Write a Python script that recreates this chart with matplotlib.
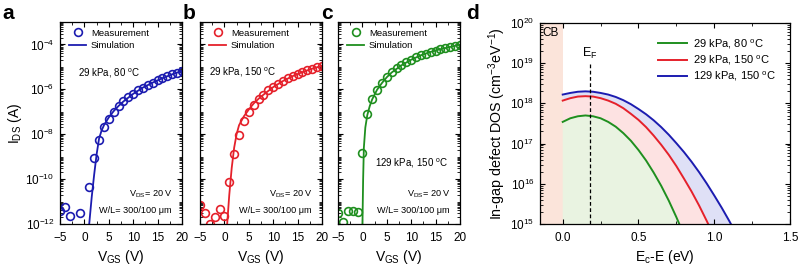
import numpy as np
import matplotlib
matplotlib.use("Agg")
import matplotlib.pyplot as plt
from matplotlib.ticker import LogLocator, NullFormatter, AutoMinorLocator, FixedLocator

plt.rcParams['font.family'] = ['Liberation Sans', 'DejaVu Sans']
plt.rcParams['mathtext.fontset'] = 'custom'
plt.rcParams['mathtext.rm'] = 'Liberation Sans'
plt.rcParams['mathtext.it'] = 'Liberation Sans'

# ---- measurement data (log10 of I_DS) ----
vgs_a = [-5, -4, -3, -1, 1, 2, 3, 4, 5, 6, 7, 8, 9, 10, 11, 12, 13, 14, 15, 16, 17, 18, 19, 20]
meas_a = [-11.4, -11.23, -11.64, -11.52, -10.36, -9.05, -8.25, -7.7, -7.3, -6.99, -6.76, -6.54,
          -6.36, -6.2, -6.05, -5.92, -5.8, -5.7, -5.59, -5.5, -5.41, -5.33, -5.26, -5.18]
sim_va = [0.9, 1.5, 2.0, 2.5, 3.0, 3.5, 4, 5, 6, 7, 8, 10, 12, 14, 16, 18, 20]
sim_a = [-12.2, -10.8, -9.8, -8.9, -8.2, -7.85, -7.6, -7.25, -6.97, -6.74, -6.54, -6.2, -5.92,
         -5.7, -5.5, -5.33, -5.18]

vgs_b = list(range(-5, 21))
meas_b = [-11.15, -11.5, -12.0, -11.67, -11.32, -11.64, -10.11, -8.86, -8.03, -7.43, -7.01, -6.7,
          -6.43, -6.24, -6.05, -5.9, -5.75, -5.63, -5.51, -5.41, -5.32, -5.23, -5.16, -5.08,
          -5.02, -4.95]
sim_vb = [0.5, 1.0, 1.5, 2.0, 2.5, 3, 4, 5, 6, 7, 8, 10, 12, 14, 16, 18, 20]
sim_b = [-12.2, -10.7, -9.5, -8.6, -8.0, -7.6, -7.2, -6.9, -6.63, -6.42, -6.24, -5.9, -5.63,
         -5.41, -5.23, -5.08, -4.95]

vgs_c = list(range(-5, 21))
meas_c = [-11.52, -11.9, -11.41, -11.43, -11.48, -8.84, -7.09, -6.43, -6.02, -5.72, -5.45, -5.24,
          -5.06, -4.92, -4.78, -4.68, -4.57, -4.48, -4.41, -4.34, -4.28, -4.22, -4.16, -4.11,
          -4.07, -4.02]
sim_vc = [0.0, 0.15, 0.3, 0.6, 1, 1.5, 2, 3, 4, 5, 6, 8, 10, 12, 14, 16, 18, 20]
sim_c = [-12.2, -10.0, -8.6, -7.7, -7.15, -6.75, -6.45, -6.02, -5.72, -5.46, -5.25, -4.93, -4.68,
         -4.48, -4.33, -4.21, -4.11, -4.02]

# ---- panel d: in-gap DOS (log10 values) ----
energy = [0.0, 0.05, 0.10, 0.15, 0.20, 0.25, 0.30, 0.35, 0.40, 0.45, 0.50, 0.55, 0.60, 0.65,
          0.70, 0.75, 0.80, 0.85, 0.90, 0.95, 1.00, 1.05, 1.10, 1.15]
dos_green = [17.54, 17.63, 17.68, 17.70, 17.68, 17.63, 17.54, 17.42, 17.26, 17.07, 16.84, 16.58,
             16.28, 15.95, 15.58, 15.17, 14.73, 14.2, 13.7, 13.2, 12.7, 12.2, 11.7, 11.2]
dos_red = [18.07, 18.13, 18.17, 18.18, 18.17, 18.13, 18.07, 17.99, 17.88, 17.74, 17.59, 17.41,
           17.20, 16.97, 16.72, 16.44, 16.13, 15.81, 15.46, 15.08, 14.68, 14.25, 13.8, 13.3]
dos_blue = [18.22, 18.26, 18.29, 18.30, 18.29, 18.26, 18.22, 18.16, 18.08, 17.98, 17.86, 17.73,
            17.58, 17.41, 17.22, 17.01, 16.79, 16.55, 16.29, 16.01, 15.71, 15.40, 15.07, 14.72]
dos_labels = ["29 kPa, 80 $^{\\mathrm{o}}$C", "29 kPa, 150 $^{\\mathrm{o}}$C", "129 kPa, 150 $^{\\mathrm{o}}$C"]
ef_energy = 0.18

blue = "#1c1cb0"
red = "#e5212b"
green = "#1f8f1f"

fig = plt.figure(figsize=(7.99, 2.68), dpi=100)

W, H = 799.0, 268.0
def ax_at(l, t, w, h):
    return fig.add_axes([l / W, (H - t - h) / H, w / W, h / H])

def style_ax(ax):
    ax.tick_params(which='both', direction='in', top=True, right=True, labelsize=8.5)
    ax.tick_params(axis='x', which='both', pad=6)
    ax.tick_params(axis='y', which='both', pad=4)
    ax.tick_params(which='major', length=3.5, width=0.8)
    ax.tick_params(which='minor', length=2, width=0.6)
    for s in ax.spines.values():
        s.set_linewidth(0.9)

panels = [
    (60, vgs_a, meas_a, sim_va, sim_a, blue, "a", "29 kPa, 80 $^{\\mathrm{o}}$C", (5.0, 10 ** -5.3)),
    (200, vgs_b, meas_b, sim_vb, sim_b, red, "b", "29 kPa, 150 $^{\\mathrm{o}}$C", (3.8, 10 ** -5.25)),
    (338, vgs_c, meas_c, sim_vc, sim_c, green, "c", "129 kPa, 150 $^{\\mathrm{o}}$C", (10, 10 ** -9.3)),
]

for i, (left, vx, my, sx, sy, col, lab, cond, cpos) in enumerate(panels):
    ax = ax_at(left, 22, 122, 202)
    ax.set_yscale('log')
    ax.plot(vx, np.power(10.0, my), 'o', mfc='none', mec=col, mew=1.2, ms=5.6,
            label='Measurement', clip_on=True)
    ax.plot(sx, np.power(10.0, sy), '-', color=col, lw=1.3, label='Simulation')
    ax.set_xlim(-5, 20)
    ax.set_ylim(1e-12, 1e-3)
    ax.set_xticks([-5, 0, 5, 10, 15, 20])
    ax.xaxis.set_minor_locator(AutoMinorLocator(2))
    ax.yaxis.set_major_locator(FixedLocator([1e-12, 1e-10, 1e-8, 1e-6, 1e-4]))
    ax.yaxis.set_minor_locator(LogLocator(base=10, subs=np.arange(1, 10), numticks=30))
    ax.yaxis.set_minor_formatter(NullFormatter())
    style_ax(ax)
    ax.set_xlabel("V$_{\\mathrm{GS}}$ (V)", fontsize=10, labelpad=3)
    if i == 0:
        ax.set_ylabel("I$_{\\mathrm{DS}}$ (A)", fontsize=10, labelpad=1)
    else:
        ax.set_yticklabels([])
    ax.legend(loc='upper left', frameon=False, fontsize=6.8, handlelength=1.8,
              handletextpad=0.5, borderaxespad=0.3, labelspacing=0.35, bbox_to_anchor=(0.02, 1.0))
    ax.text(cpos[0], cpos[1], cond, fontsize=7, ha='center', va='center')
    ax.text(18.2, 10 ** -10.67, "V$_{\\mathrm{DS}}$= 20 V", fontsize=6.6, ha='right', va='center')
    ax.text(17.9, 10 ** -11.4, "W/L= 300/100 μm", fontsize=6.6, ha='right', va='center')
    fig.text((left - 58) / W if i == 0 else (left - 17) / W, 1 - 4 / H, lab, fontsize=15,
             fontweight='bold', ha='left', va='top')

# panel d
axd = ax_at(540, 23, 250, 201)
axd.set_yscale('log')
axd.set_xlim(-0.15, 1.5)
axd.set_ylim(1e15, 1e20)
e = np.array(energy)
g = np.power(10.0, dos_green)
r = np.power(10.0, dos_red)
b = np.power(10.0, dos_blue)
axd.axvspan(-0.15, 0.0, color='#fbe4da', lw=0)
axd.fill_between(e, 1e10, g, color='#e9f3e1', lw=0)
axd.fill_between(e, g, r, color='#fde2e2', lw=0)
axd.fill_between(e, r, b, color='#dfe0f6', lw=0)
axd.plot(e, g, color=green, lw=1.4, label=dos_labels[0])
axd.plot(e, r, color=red, lw=1.4, label=dos_labels[1])
axd.plot(e, b, color=blue, lw=1.4, label=dos_labels[2])
axd.plot([ef_energy, ef_energy], [1e15, 1e19], ls='--', color='black', lw=0.9, dashes=(3, 2))
axd.text(ef_energy, 10 ** 19.05, "E$_{\\mathrm{F}}$", fontsize=9, ha='center', va='bottom')
axd.text(-0.135, 10 ** 19.75, "CB", fontsize=8.5, ha='left', va='center')
axd.set_xticks([0.0, 0.5, 1.0, 1.5])
axd.set_xticklabels(["0.0", "0.5", "1.0", "1.5"])
axd.xaxis.set_minor_locator(FixedLocator([-0.25, 0.25, 0.75, 1.25]))
axd.yaxis.set_major_locator(FixedLocator([1e15, 1e16, 1e17, 1e18, 1e19, 1e20]))
axd.yaxis.set_minor_locator(LogLocator(base=10, subs=np.arange(1, 10), numticks=30))
axd.yaxis.set_minor_formatter(NullFormatter())
style_ax(axd)
axd.set_xlabel("E$_{\\mathrm{c}}$-E (eV)", fontsize=10, labelpad=3)
axd.set_ylabel("In-gap defect DOS (cm$^{-3}$eV$^{-1}$)", fontsize=10.3, labelpad=2)
axd.legend(loc='upper right', frameon=False, fontsize=8, handlelength=2.6,
           handletextpad=0.5, labelspacing=0.25, borderaxespad=0.9)
fig.text(466 / W, 1 - 4 / H, "d", fontsize=15, fontweight='bold', ha='left', va='top')

fig.savefig("out.png", dpi=100)
